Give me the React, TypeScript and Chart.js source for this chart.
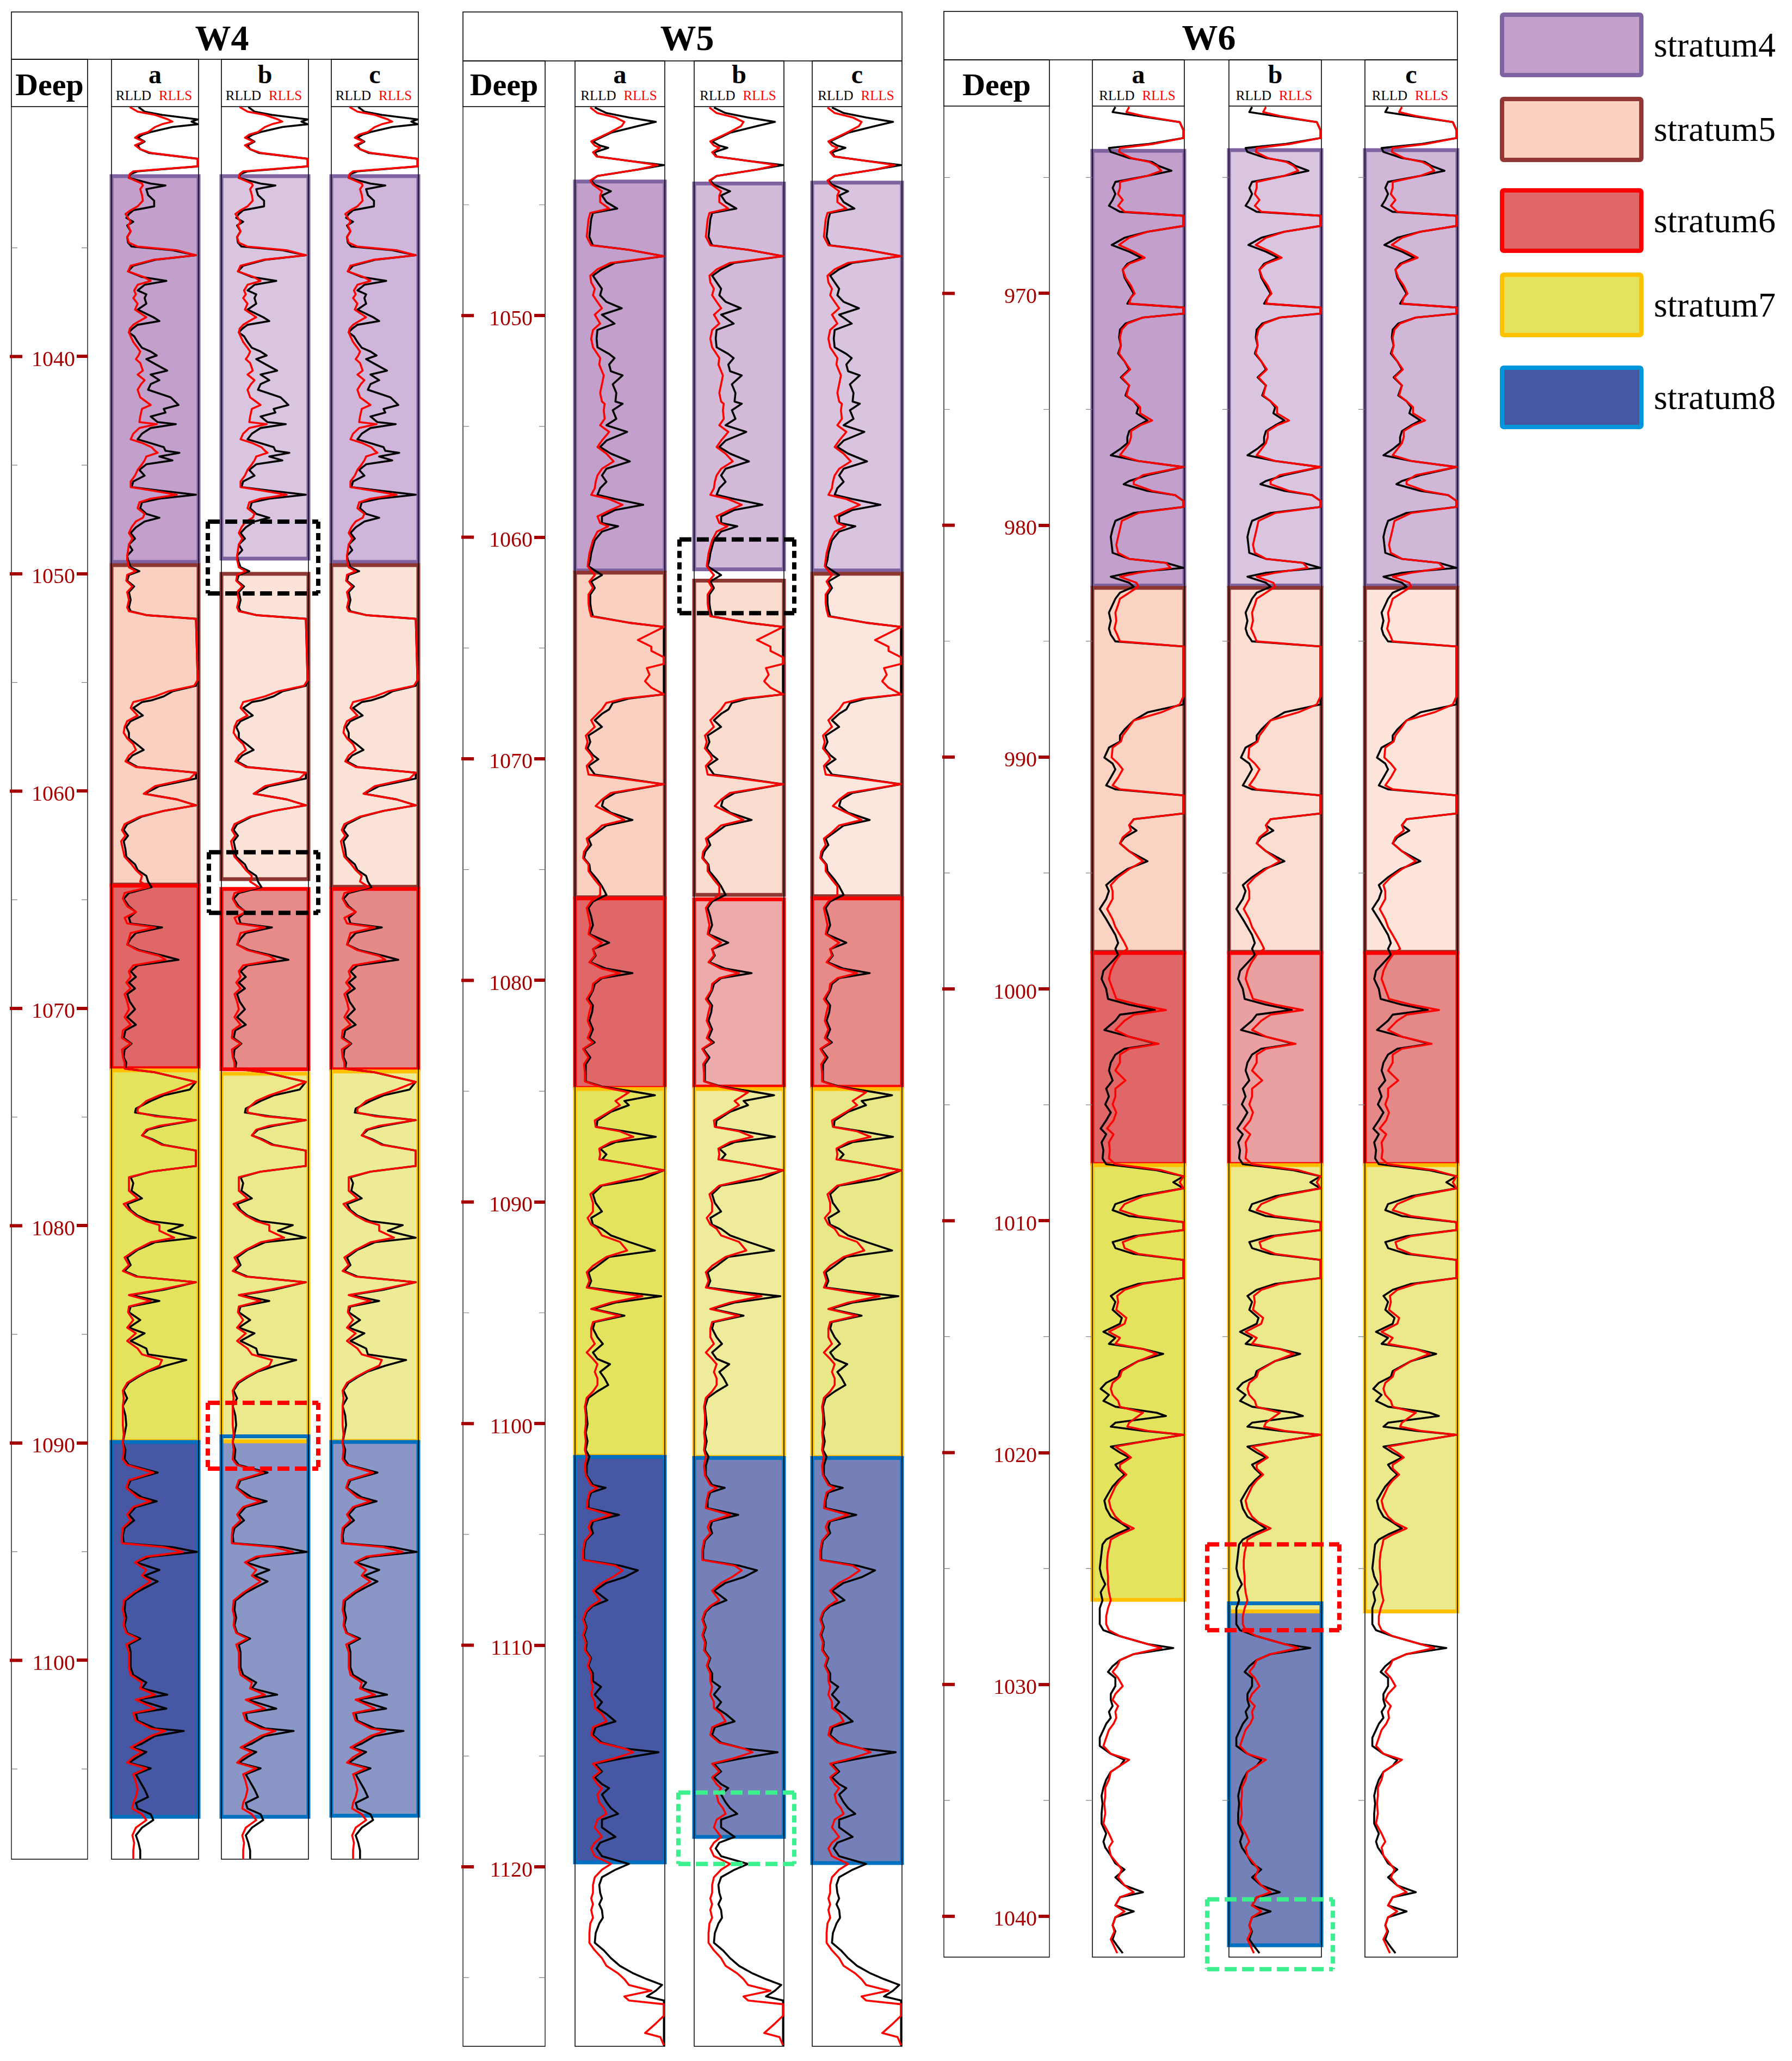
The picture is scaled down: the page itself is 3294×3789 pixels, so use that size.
import React, { useEffect, useRef } from "react";
import { Chart, registerables } from "chart.js";
Chart.register(...registerables);

const SERIF = "'Liberation Serif', 'Times New Roman', serif";
const TICK_RED = "#A50000";

// ---------------- DATA ----------------
const LEGEND_NAMES = ["stratum4", "stratum5", "stratum6", "stratum7", "stratum8"];
const LOG_NAMES = ["RLLD", "RLLS"];
const TRACK_NAMES = ["a", "b", "c"];
const WELL_NAMES = ["W4", "W5", "W6"];

const W4_RANGE = [1028.5, 1109.15];
const W5_RANGE = [1040.57, 1128.1];
const W6_RANGE = [961.92, 1041.76];

const W4_TICKS = [1040, 1050, 1060, 1070, 1080, 1090, 1100];
const W4_MINOR = [1035, 1045, 1055, 1065, 1075, 1085, 1095, 1105];
const W5_TICKS = [1050, 1060, 1070, 1080, 1090, 1100, 1110, 1120];
const W5_MINOR = [1045, 1055, 1065, 1075, 1085, 1095, 1105, 1115, 1125];
const W6_TICKS = [970, 980, 990, 1000, 1010, 1020, 1030, 1040];
const W6_MINOR = [965, 975, 985, 995, 1005, 1015, 1025, 1035];

const W4_DEPTH = [
  1028.52,1028.73,1028.88,1029.09,1029.19,1029.31,1029.44,1029.67,1029.79,1029.93,
  1030.11,1030.28,1030.46,1030.63,1030.90,1031.25,1031.48,1031.60,1031.78,1032.04,
  1032.13,1032.30,1032.57,1032.83,1033.09,1033.27,1033.44,1033.62,1033.80,1033.97,
  1034.24,1034.50,1034.76,1034.94,1035.11,1035.34,1035.55,1035.82,1036.08,1036.34,
  1036.52,1036.70,1036.96,1037.14,1037.31,1037.57,1037.84,1038.19,1038.37,1038.54,
  1038.72,1038.89,1039.07,1039.33,1039.60,1039.77,1039.95,1040.12,1040.30,1040.65,
  1040.83,1041.09,1041.27,1041.53,1041.88,1042.23,1042.41,1042.58,1042.76,1043.02,
  1043.11,1043.29,1043.55,1043.81,1043.99,1044.17,1044.34,1044.43,1044.60,1044.78,
  1044.96,1045.22,1045.48,1045.75,1046.01,1046.19,1046.36,1046.54,1046.71,1046.98,
  1047.24,1047.42,1047.59,1047.86,1048.12,1048.38,1048.65,1048.91,1049.17,1049.35,
  1049.70,1049.88,1050.05,1050.32,1050.58,1050.84,1051.20,1051.55,1051.72,1051.90,
  1052.07,1054.89,1055.15,1055.41,1055.64,1055.82,1055.90,1056.17,1056.52,1056.78,
  1057.05,1057.31,1057.57,1057.84,1058.10,1058.36,1058.63,1058.89,1059.15,1059.42,
  1059.77,1060.12,1060.38,1060.65,1060.91,1061.17,1061.52,1061.79,1062.05,1062.31,
  1062.67,1063.02,1063.37,1063.63,1063.90,1064.16,1064.42,1064.69,1064.95,1065.30,
  1065.56,1065.83,1066.09,1066.27,1066.53,1066.79,1067.06,1067.32,1067.58,1067.76,
  1068.02,1068.29,1068.55,1068.81,1069.08,1069.34,1069.69,1070.04,1070.40,1070.75,
  1071.01,1071.36,1071.62,1071.89,1072.24,1072.50,1072.77,1072.94,1073.38,1073.73,
  1074.00,1074.26,1074.61,1074.79,1074.96,1075.14,1075.40,1075.58,1075.84,1076.02,
  1076.28,1076.54,1077.25,1077.51,1077.77,1078.04,1078.39,1078.74,1079.00,1079.27,
  1079.53,1079.79,1079.97,1080.23,1080.55,1080.76,1081.11,1081.46,1081.81,1082.08,
  1082.34,1082.60,1082.95,1083.19,1083.46,1083.72,1083.98,1084.34,1084.69,1084.95,
  1085.30,1085.65,1085.92,1086.18,1086.44,1086.71,1086.97,1087.23,1087.58,1087.94,
  1088.29,1088.73,1089.17,1089.60,1089.96,1090.31,1090.75,1091.01,1091.36,1091.71,
  1092.06,1092.50,1092.68,1092.94,1093.29,1093.56,1093.91,1094.26,1094.61,1094.79,
  1095.01,1095.23,1095.49,1095.84,1096.10,1096.37,1096.63,1096.89,1097.25,1097.68,
  1098.04,1098.39,1098.74,1099.00,1099.27,1099.62,1099.97,1100.32,1100.67,1101.02,
  1101.29,1101.58,1101.81,1102.22,1102.43,1102.78,1103.13,1103.25,1103.48,1103.83,
  1104.01,1104.22,1104.45,1104.71,1104.97,1105.24,1105.59,1105.94,1106.29,1106.56,
  1106.82,1107.08,1107.35,1107.70,1108.05,1108.40,1108.75,1109.10,
];
const W4_RLLD = [
  .31,.38,.58,.99,.92,.99,.70,.45,.36,.30,
  .38,.30,.33,.43,.99,.99,.30,.22,.20,.45,
  .62,.40,.42,.49,.49,.25,.20,.17,.25,.18,
  .22,.18,.19,.23,.70,.97,.50,.25,.19,.35,
  .63,.38,.30,.40,.38,.40,.30,.48,.55,.30,
  .24,.20,.26,.30,.35,.45,.52,.40,.48,.64,
  .45,.55,.45,.42,.68,.77,.60,.62,.45,.53,
  .74,.45,.35,.30,.45,.60,.62,.78,.55,.70,
  .40,.32,.38,.25,.23,.60,.97,.55,.35,.33,
  .40,.55,.38,.28,.22,.27,.20,.24,.18,.19,
  .22,.32,.20,.18,.26,.20,.22,.20,.22,.40,
  .97,.99,.97,.70,.60,.46,.35,.25,.36,.22,
  .17,.20,.20,.29,.37,.24,.18,.30,.97,.97,
  .55,.38,.75,.97,.60,.35,.18,.14,.19,.14,
  .16,.17,.27,.30,.40,.42,.46,.20,.14,.20,
  .28,.20,.22,.58,.28,.22,.18,.32,.60,.77,
  .30,.22,.28,.20,.27,.18,.21,.27,.18,.28,
  .16,.14,.23,.15,.14,.17,.16,.50,.97,.90,
  .60,.45,.28,.27,.55,.97,.60,.42,.35,.47,
  .60,.97,.97,.45,.22,.25,.23,.35,.18,.22,
  .30,.45,.82,.65,.97,.50,.30,.18,.22,.15,
  .30,.97,.60,.22,.55,.22,.20,.33,.20,.38,
  .22,.40,.42,.86,.62,.42,.30,.20,.14,.18,
  .13,.16,.17,.15,.13,.16,.15,.20,.53,.22,
  .18,.35,.52,.28,.20,.26,.15,.13,.14,.70,
  .98,.45,.28,.55,.38,.53,.40,.28,.16,.15,
  .17,.15,.18,.33,.20,.22,.22,.22,.25,.40,
  .35,.64,.30,.63,.28,.30,.50,.83,.50,.35,
  .24,.40,.30,.20,.45,.28,.33,.38,.42,.28,
  .30,.45,.48,.35,.28,.31,.33,.33,
];
const W4_RLLS = [
  .21,.30,.50,.65,.70,.58,.50,.42,.32,.27,
  .37,.27,.33,.45,.99,.99,.25,.21,.20,.35,
  .36,.33,.35,.36,.30,.22,.16,.19,.22,.19,
  .22,.18,.20,.30,.75,.97,.48,.22,.19,.37,
  .45,.30,.26,.28,.25,.30,.27,.40,.32,.25,
  .21,.20,.22,.25,.30,.33,.31,.28,.33,.36,
  .30,.38,.34,.30,.33,.45,.35,.34,.33,.32,
  .52,.32,.25,.22,.36,.46,.50,.53,.40,.38,
  .35,.30,.27,.22,.22,.50,.75,.45,.32,.30,
  .38,.36,.28,.23,.20,.24,.20,.19,.18,.18,
  .20,.28,.18,.17,.24,.18,.20,.18,.20,.40,
  .97,.99,.95,.65,.50,.33,.25,.22,.30,.18,
  .15,.14,.18,.25,.28,.20,.16,.28,.97,.90,
  .50,.37,.75,.97,.60,.33,.15,.12,.16,.11,
  .13,.15,.23,.28,.35,.33,.43,.15,.13,.18,
  .28,.15,.18,.50,.22,.20,.18,.30,.55,.62,
  .25,.20,.22,.17,.22,.15,.18,.20,.15,.22,
  .13,.12,.22,.12,.13,.15,.15,.50,.97,.75,
  .55,.40,.30,.30,.50,.97,.55,.40,.35,.45,
  .58,.97,.97,.45,.20,.20,.20,.30,.14,.20,
  .28,.40,.55,.55,.72,.45,.28,.15,.20,.13,
  .28,.97,.55,.20,.45,.20,.19,.25,.18,.28,
  .18,.30,.35,.58,.55,.40,.28,.18,.13,.14,
  .13,.13,.13,.14,.13,.14,.13,.18,.48,.20,
  .17,.30,.45,.25,.18,.22,.13,.12,.12,.60,
  .82,.40,.27,.40,.35,.45,.35,.25,.14,.13,
  .15,.14,.17,.30,.17,.20,.20,.20,.22,.35,
  .33,.50,.28,.50,.25,.28,.45,.62,.45,.30,
  .22,.35,.25,.18,.40,.25,.28,.30,.28,.25,
  .24,.35,.40,.28,.24,.26,.25,.25,
];

const W5_DEPTH = [
  1040.61,1040.86,1041.06,1041.26,1041.45,1041.75,1042.14,1042.33,1042.43,1042.63,
  1042.82,1043.02,1043.21,1043.41,1043.70,1043.90,1044.09,1044.39,1044.58,1044.88,
  1045.17,1045.37,1045.66,1046.05,1046.44,1046.83,1047.03,1047.32,1047.62,1047.91,
  1048.20,1048.50,1048.79,1049.08,1049.38,1049.67,1049.96,1050.36,1050.65,1051.04,
  1051.43,1051.73,1051.92,1052.21,1052.51,1052.70,1053.10,1053.49,1053.88,1053.98,
  1054.27,1054.66,1054.95,1055.25,1055.64,1055.93,1056.23,1056.58,1056.91,1057.21,
  1057.50,1057.79,1058.09,1058.28,1058.54,1058.77,1059.06,1059.36,1059.51,1059.75,
  1060.14,1060.43,1060.73,1061.02,1061.31,1061.71,1062.00,1062.29,1062.59,1062.98,
  1063.27,1063.57,1063.86,1064.05,1064.64,1064.94,1065.13,1065.42,1065.72,1065.91,
  1066.21,1066.50,1066.79,1067.09,1067.28,1067.48,1067.77,1067.97,1068.26,1068.56,
  1068.95,1069.24,1069.53,1069.83,1070.02,1070.32,1070.71,1070.86,1071.15,1071.54,
  1071.84,1072.13,1072.43,1072.76,1073.01,1073.31,1073.60,1073.89,1074.19,1074.48,
  1074.77,1075.07,1075.46,1075.75,1076.14,1076.44,1076.73,1077.12,1077.51,1077.91,
  1078.30,1078.59,1078.88,1079.18,1079.47,1079.67,1079.90,1080.16,1080.45,1080.84,
  1081.13,1081.43,1081.82,1082.21,1082.60,1082.80,1083.09,1083.48,1083.78,1084.17,
  1084.56,1084.79,1085.05,1085.18,1085.44,1085.63,1085.93,1086.32,1086.61,1086.81,
  1087.06,1087.30,1087.59,1087.85,1088.08,1088.28,1088.57,1088.96,1089.26,1089.65,
  1090.04,1090.43,1090.72,1091.02,1091.21,1091.51,1091.80,1092.19,1092.48,1092.88,
  1093.17,1093.56,1093.86,1094.05,1094.25,1094.54,1094.83,1095.13,1095.42,1095.71,
  1096.10,1096.40,1096.79,1097.08,1097.32,1097.67,1097.96,1098.26,1098.55,1098.84,
  1099.24,1099.63,1100.02,1100.41,1100.80,1101.19,1101.49,1101.90,1102.33,1102.77,
  1102.90,1103.11,1103.46,1103.81,1104.12,1104.41,1104.68,1104.94,1105.28,1105.72,
  1106.15,1106.41,1106.62,1106.93,1107.19,1107.54,1107.97,1108.23,1108.49,1108.84,
  1109.19,1109.54,1109.88,1110.23,1110.58,1110.93,1111.27,1111.62,1111.88,1112.23,
  1112.57,1112.83,1113.10,1113.44,1113.70,1114.05,1114.40,1114.66,1114.83,1115.09,
  1115.35,1115.70,1115.96,1116.27,1116.45,1116.74,1117.09,1117.35,1117.61,1117.87,
  1118.22,1118.65,1118.91,1119.17,1119.52,1119.87,1120.13,1120.47,1120.82,1121.17,
  1121.43,1121.69,1121.95,1122.30,1122.56,1122.99,1123.43,1123.77,1124.12,1124.47,
  1124.81,1125.07,1125.33,1125.59,1125.85,1126.03,1126.20,1126.72,1127.07,1127.50,
  1127.68,1128.05,
];
const W5_RLLD = [
  .22,.35,.60,.90,.70,.40,.20,.28,.37,.22,
  .25,.60,.99,.70,.25,.18,.22,.40,.30,.35,
  .47,.20,.18,.17,.16,.20,.60,.99,.45,.30,
  .20,.25,.30,.28,.35,.52,.30,.44,.25,.24,
  .25,.38,.44,.38,.40,.53,.42,.46,.45,.53,
  .42,.46,.35,.58,.35,.28,.40,.61,.35,.30,
  .35,.28,.25,.45,.76,.45,.30,.30,.48,.30,
  .22,.20,.18,.17,.15,.30,.18,.22,.17,.17,
  .18,.20,.60,.99,.99,.99,.99,.99,.99,.99,
  .99,.99,.99,.99,.60,.42,.38,.30,.22,.30,
  .15,.17,.14,.20,.26,.15,.22,.50,.99,.45,
  .32,.30,.40,.64,.35,.25,.15,.18,.12,.10,
  .16,.17,.25,.30,.35,.20,.15,.18,.20,.16,
  .38,.20,.23,.17,.35,.64,.30,.22,.20,.15,
  .20,.19,.16,.20,.16,.22,.10,.17,.12,.12,
  .12,.30,.70,.89,.55,.60,.40,.25,.24,.55,
  .90,.45,.28,.35,.30,.60,.99,.75,.30,.20,
  .23,.30,.18,.20,.30,.40,.60,.89,.38,.25,
  .15,.18,.15,.50,.96,.45,.20,.55,.22,.20,
  .25,.31,.20,.25,.39,.28,.33,.37,.25,.15,
  .12,.13,.14,.12,.14,.12,.16,.13,.13,.20,
  .34,.18,.15,.15,.49,.20,.18,.20,.12,.10,
  .10,.50,.70,.55,.35,.22,.36,.20,.13,.10,
  .13,.10,.13,.12,.18,.15,.20,.20,.29,.22,
  .30,.25,.35,.45,.23,.20,.30,.55,.93,.55,
  .22,.30,.22,.30,.38,.30,.35,.40,.48,.30,
  .30,.45,.28,.24,.30,.60,.45,.30,.27,.28,
  .30,.27,.30,.31,.27,.23,.22,.32,.40,.50,
  .65,.80,.97,.90,.80,.99,.99,.99,.99,.99,
  .99,.99,
];
const W5_RLLS = [
  .17,.25,.45,.55,.52,.38,.18,.22,.28,.20,
  .24,.60,.92,.70,.25,.17,.20,.30,.28,.28,
  .38,.17,.15,.14,.13,.18,.60,.99,.40,.25,
  .17,.18,.22,.20,.25,.30,.22,.28,.20,.18,
  .20,.25,.28,.27,.30,.32,.30,.28,.30,.33,
  .32,.33,.28,.38,.30,.25,.35,.43,.30,.25,
  .23,.22,.18,.38,.53,.40,.25,.28,.37,.25,
  .20,.18,.16,.15,.14,.22,.16,.20,.15,.15,
  .16,.18,.60,.99,.70,.85,.85,.99,.99,.80,
  .83,.78,.85,.99,.55,.35,.30,.25,.18,.22,
  .12,.14,.12,.18,.20,.13,.15,.45,.99,.40,
  .30,.23,.38,.55,.30,.22,.13,.15,.10,.09,
  .15,.15,.22,.28,.28,.18,.13,.15,.17,.15,
  .30,.20,.22,.16,.30,.50,.28,.20,.19,.13,
  .18,.16,.14,.18,.14,.20,.09,.15,.10,.11,
  .11,.28,.60,.55,.45,.50,.38,.22,.23,.50,
  .65,.40,.27,.28,.27,.60,.99,.60,.28,.17,
  .20,.20,.14,.18,.25,.30,.50,.58,.35,.20,
  .13,.16,.13,.40,.75,.40,.18,.50,.20,.18,
  .18,.22,.13,.20,.25,.22,.25,.25,.20,.13,
  .11,.12,.12,.11,.12,.11,.13,.11,.12,.18,
  .25,.16,.14,.13,.40,.18,.15,.18,.11,.09,
  .09,.45,.53,.42,.30,.20,.28,.18,.12,.09,
  .12,.09,.12,.11,.17,.14,.18,.18,.20,.18,
  .22,.22,.30,.35,.20,.18,.28,.55,.65,.45,
  .20,.28,.20,.25,.30,.25,.27,.32,.35,.25,
  .22,.30,.22,.18,.22,.40,.30,.22,.20,.20,
  .18,.20,.18,.20,.17,.16,.16,.22,.30,.35,
  .48,.55,.60,.85,.55,.60,.99,.99,.90,.78,
  .95,.99,
];

const W6_DEPTH = [
  961.96,962.18,962.35,962.61,962.96,963.30,963.56,963.73,963.90,964.16,
  964.33,964.50,964.71,964.93,965.19,965.45,965.71,965.97,966.22,966.48,
  966.65,967.09,967.34,967.60,967.91,968.20,968.46,968.72,968.98,969.32,
  969.67,970.01,970.18,970.44,970.61,970.87,971.04,971.30,971.56,971.90,
  972.25,972.59,972.93,973.28,973.62,973.97,974.40,974.65,974.91,975.17,
  975.48,975.69,975.94,976.20,976.46,976.72,976.98,977.23,977.49,977.84,
  978.09,978.23,978.52,978.70,978.95,979.21,979.47,979.81,980.16,980.50,
  980.85,981.19,981.45,981.62,981.84,982.05,982.22,982.48,982.65,982.91,
  983.17,983.43,983.77,984.12,984.46,984.72,985.01,985.23,987.38,987.73,
  988.07,988.42,988.81,989.07,989.33,989.59,990.02,990.28,990.53,990.88,
  991.22,991.39,991.65,992.43,992.68,992.94,993.17,993.46,993.72,994.06,
  994.49,994.83,995.18,995.52,995.78,996.12,996.55,996.99,997.33,997.67,
  998.02,998.27,998.53,998.88,999.22,999.57,1000.00,1000.43,1000.68,1000.91,
  1001.11,1001.37,1001.77,1002.06,1002.37,1002.58,1002.83,1003.18,1003.52,1003.95,
  1004.30,1004.64,1004.98,1005.33,1005.67,1006.02,1006.27,1006.62,1006.96,1007.31,
  1007.56,1007.82,1008.08,1008.34,1008.60,1008.94,1009.28,1009.54,1009.80,1010.06,
  1010.40,1010.66,1010.92,1011.18,1011.43,1011.69,1012.47,1012.72,1012.98,1013.24,
  1013.50,1013.84,1014.19,1014.44,1014.79,1015.05,1015.31,1015.53,1015.74,1016.05,
  1016.48,1016.73,1016.99,1017.25,1017.51,1017.77,1018.02,1018.28,1018.42,1018.71,
  1018.88,1019.06,1019.23,1019.49,1019.74,1020.00,1020.21,1020.52,1020.69,1020.95,
  1021.20,1021.46,1021.72,1022.07,1022.41,1022.76,1023.01,1023.27,1023.53,1023.75,
  1023.96,1024.30,1024.65,1024.99,1025.34,1025.68,1026.02,1026.37,1026.71,1027.06,
  1027.40,1027.66,1027.92,1028.26,1028.43,1028.69,1028.95,1029.21,1029.46,1029.72,
  1030.07,1030.41,1030.67,1030.93,1031.18,1031.44,1031.70,1031.96,1032.30,1032.65,
  1032.99,1033.25,1033.51,1033.77,1034.11,1034.45,1034.80,1035.14,1035.57,1036.00,
  1036.43,1036.78,1037.03,1037.38,1037.72,1037.98,1038.32,1038.67,1038.96,1039.18,
  1039.53,1039.79,1040.04,1040.39,1040.65,1040.99,1041.33,1041.59,
];
const W6_RLLD = [
  .25,.22,.50,.95,.99,.99,.60,.18,.20,.40,
  .65,.72,.86,.60,.25,.22,.25,.22,.18,.30,
  .99,.99,.60,.35,.21,.40,.53,.38,.33,.35,
  .40,.45,.42,.38,.99,.99,.55,.36,.30,.29,
  .31,.28,.35,.40,.31,.40,.36,.45,.50,.48,
  .60,.50,.40,.38,.38,.30,.20,.50,.99,.60,
  .40,.34,.60,.90,.99,.99,.45,.25,.22,.20,
  .21,.22,.40,.80,.99,.40,.20,.40,.45,.30,
  .25,.22,.18,.20,.18,.20,.25,.99,.99,.99,
  .60,.45,.35,.30,.30,.18,.13,.22,.25,.20,
  .15,.25,.99,.99,.45,.40,.48,.35,.30,.40,
  .60,.38,.25,.15,.18,.15,.08,.15,.20,.25,
  .28,.25,.28,.20,.12,.10,.15,.17,.40,.68,
  .30,.25,.13,.40,.70,.35,.25,.20,.18,.22,
  .15,.18,.14,.20,.15,.09,.15,.10,.12,.11,
  .15,.70,.99,.88,.99,.50,.25,.22,.40,.99,
  .99,.45,.22,.25,.45,.99,.99,.50,.30,.20,
  .25,.22,.32,.30,.12,.25,.18,.55,.77,.50,
  .30,.28,.15,.09,.18,.12,.25,.70,.80,.25,
  .20,.55,.99,.60,.20,.30,.40,.25,.28,.35,
  .28,.22,.18,.13,.15,.20,.30,.40,.25,.15,
  .11,.10,.09,.08,.10,.14,.09,.11,.08,.08,
  .08,.12,.30,.60,.88,.45,.30,.22,.17,.25,
  .25,.20,.20,.22,.18,.20,.15,.12,.08,.08,
  .20,.35,.30,.20,.15,.12,.10,.11,.10,.10,
  .15,.12,.14,.20,.25,.35,.25,.35,.55,.30,
  .25,.45,.25,.22,.25,.22,.28,.33,
];
const W6_RLLS = [
  .40,.37,.55,.95,.99,.99,.65,.30,.29,.42,
  .62,.70,.75,.60,.30,.30,.28,.33,.28,.35,
  .99,.99,.60,.40,.29,.45,.57,.40,.33,.36,
  .42,.46,.42,.40,.99,.99,.55,.38,.32,.30,
  .31,.29,.35,.41,.32,.40,.37,.45,.52,.52,
  .65,.52,.42,.42,.40,.35,.30,.50,.99,.55,
  .45,.45,.65,.90,.99,.99,.50,.32,.30,.28,
  .26,.28,.40,.80,.85,.50,.30,.48,.50,.40,
  .30,.28,.25,.26,.24,.27,.30,.99,.99,.95,
  .75,.45,.38,.33,.31,.22,.21,.28,.33,.28,
  .22,.30,.99,.99,.45,.40,.42,.33,.30,.40,
  .55,.40,.28,.20,.22,.22,.16,.22,.25,.30,
  .35,.38,.30,.24,.20,.18,.22,.26,.50,.80,
  .45,.35,.25,.40,.72,.40,.30,.30,.25,.36,
  .25,.25,.22,.26,.23,.16,.23,.18,.19,.18,
  .25,.75,.99,.95,.99,.55,.35,.30,.50,.99,
  .99,.50,.33,.35,.50,.99,.99,.55,.35,.27,
  .28,.26,.37,.35,.18,.30,.25,.55,.70,.50,
  .32,.30,.22,.20,.22,.28,.30,.55,.50,.40,
  .38,.60,.99,.60,.25,.35,.42,.30,.30,.37,
  .30,.25,.22,.18,.20,.25,.32,.45,.30,.20,
  .19,.17,.16,.16,.17,.17,.18,.20,.17,.15,
  .15,.18,.30,.60,.75,.45,.30,.27,.22,.28,
  .33,.25,.22,.28,.25,.26,.23,.18,.15,.12,
  .20,.40,.30,.20,.18,.14,.14,.13,.14,.12,
  .18,.22,.18,.20,.27,.32,.28,.35,.45,.30,
  .25,.35,.25,.22,.24,.20,.24,.27,
];

// strata per track: [stratum number, top depth, base depth]
const W4_STRATA_A = [[4, 1031.7, 1049.45], [5, 1049.6, 1064.3], [6, 1064.35, 1072.75], [7, 1072.85, 1089.9], [8, 1089.95, 1107.2]];
const W4_STRATA_B = [[4, 1031.7, 1049.3], [5, 1050.0, 1064.05], [6, 1064.5, 1072.8], [7, 1073.0, 1089.92], [8, 1089.69, 1107.2]];
const W4_STRATA_C = [[4, 1031.7, 1049.45], [5, 1049.6, 1064.4], [6, 1064.5, 1072.8], [7, 1072.9, 1089.9], [8, 1089.95, 1107.15]];
const W5_STRATA_A = [[4, 1043.95, 1061.5], [5, 1061.6, 1076.25], [6, 1076.3, 1084.85], [7, 1084.9, 1101.45], [8, 1101.5, 1119.8]];
const W5_STRATA_B = [[4, 1044.04, 1061.45], [5, 1061.96, 1076.14], [6, 1076.34, 1084.79], [7, 1084.9, 1101.5], [8, 1101.55, 1118.65]];
const W5_STRATA_C = [[4, 1044.0, 1061.5], [5, 1061.65, 1076.2], [6, 1076.3, 1084.8], [7, 1084.9, 1101.5], [8, 1101.55, 1119.83]];
const W6_STRATA_A = [[4, 963.85, 982.6], [5, 982.7, 998.4], [6, 998.45, 1007.55], [7, 1007.6, 1026.35]];
const W6_STRATA_B = [[4, 963.82, 982.6], [5, 982.7, 998.4], [6, 998.45, 1007.55], [7, 1007.6, 1026.85], [8, 1026.5, 1041.25]];
const W6_STRATA_C = [[4, 963.82, 982.6], [5, 982.7, 998.4], [6, 998.45, 1007.55], [7, 1007.6, 1026.85]];

// highlighted intervals (dashed boxes) in track b: [top depth, base depth]
const W4_MARKS = [[1047.6, 1050.9], [1062.81, 1065.6], [1088.15, 1091.18]];
const W5_MARKS = [[1060.1, 1063.43], [1116.65, 1119.87]];
const W6_MARKS = [[1023.96, 1027.66], [1039.27, 1042.28]];

// ---------------- STYLE / LAYOUT ----------------
const BORDERS = ["#7F63A1", "#8E3631", "#FF0000", "#FFC000", "#0070C0"];
const LEGEND_BORDERS = ["#8064A2", "#943634", "#FF0000", "#FFC000", "#0096DB"];
const LEGEND_FILLS = ["#C3A0CB", "#FAD1C0", "#DF6767", "#E3E35E", "#4657A3"];
const LEGEND_TOPS = [23, 178, 346, 501, 672];
const LEGEND_HEIGHTS = [119, 120, 119, 119, 117];

const BLACK = "#000000";
const RED = "#FF0000";
const GREEN = "#3CF08E";

const WELLS: any[] = [
  {
    name: WELL_NAMES[0], range: W4_RANGE, ticks: W4_TICKS, minor: W4_MINOR, depth: W4_DEPTH, rlld: W4_RLLD, rlls: W4_RLLS,
    titleTop: 22, headerTop: 109, titleCx: 408, deep: [21, 161], bodyTop: 196, bodyBottom: 3418, trackMinor: false,
    tracks: [
      { x: [205, 365], strata: W4_STRATA_A, fills: ["#C3A0CB", "#FAD1C0", "#DF6767", "#E3E35E", "#4657A3"], marks: [] },
      { x: [407, 567], strata: W4_STRATA_B, fills: ["#D9C5E0", "#FCE3D9", "#E68A8A", "#EBE98B", "#8A97C6"],
        marks: [{ iv: W4_MARKS[0], x: [-0.156, 1.1125], color: BLACK }, { iv: W4_MARKS[1], x: [-0.144, 1.1125], color: BLACK }, { iv: W4_MARKS[2], x: [-0.156, 1.1125], color: RED }] },
      { x: [609, 769], strata: W4_STRATA_C, fills: ["#CFB5D9", "#FCE3D8", "#E58989", "#EDEB95", "#8A96C6"], marks: [] },
    ],
  },
  {
    name: WELL_NAMES[1], range: W5_RANGE, ticks: W5_TICKS, minor: W5_MINOR, depth: W5_DEPTH, rlld: W5_RLLD, rlls: W5_RLLS,
    titleTop: 22, headerTop: 112, titleCx: 1263, deep: [851, 1002], bodyTop: 196, bodyBottom: 3762, trackMinor: false,
    tracks: [
      { x: [1057, 1222], strata: W5_STRATA_A, fills: ["#C3A0CB", "#FAD1C0", "#DF6767", "#E3E35E", "#4657A3"], marks: [] },
      { x: [1276, 1441], strata: W5_STRATA_B, fills: ["#D3BAD9", "#FBDDCF", "#ECAAAA", "#EEEC9A", "#7580B8"],
        marks: [{ iv: W5_MARKS[0], x: [-0.164, 1.115], color: BLACK }, { iv: W5_MARKS[1], x: [-0.176, 1.115], color: GREEN }] },
      { x: [1493, 1658], strata: W5_STRATA_C, fills: ["#D8C4DF", "#FCE6DD", "#E68A8A", "#E9E888", "#7580B8"], marks: [] },
    ],
  },
  {
    name: WELL_NAMES[2], range: W6_RANGE, ticks: W6_TICKS, minor: W6_MINOR, depth: W6_DEPTH, rlld: W6_RLLD, rlls: W6_RLLS,
    titleTop: 21, headerTop: 110, titleCx: 2222, deep: [1735, 1929], bodyTop: 195, bodyBottom: 3598, trackMinor: true,
    tracks: [
      { x: [2008, 2177], strata: W6_STRATA_A, fills: ["#C3A0CB", "#FAD3C3", "#DF6767", "#E3E35E"], marks: [] },
      { x: [2259, 2429], strata: W6_STRATA_B, fills: ["#D9C5E0", "#FCDDD1", "#EAA0A0", "#EBE98B", "#7481B9"],
        marks: [{ iv: W6_MARKS[0], x: [-0.235, 1.194], color: RED }, { iv: W6_MARKS[1], x: [-0.235, 1.124], color: GREEN }] },
      { x: [2509, 2679], strata: W6_STRATA_C, fills: ["#D0B7D8", "#FDE5DB", "#E58888", "#EBE98B"], marks: [] },
    ],
  },
];

const PADX = 50;
const PADY = 40;

// ---------------- CHART CONFIGS ----------------
function trackConfig(w: any, t: any) {
  const n = Math.min(w.depth.length, w.rlld.length, w.rlls.length);
  const pts = (vals: number[]) => {
    const out: any[] = [];
    for (let i = 0; i < n; i++) out.push({ x: vals[i], y: w.depth[i] });
    return out;
  };
  const line = (label: string, vals: number[], color: string) => ({
    label, data: pts(vals), showLine: true, borderColor: color, backgroundColor: color,
    borderWidth: 3.6, pointRadius: 0, pointHoverRadius: 0, borderJoinStyle: "round", tension: 0, fill: false,
  });
  const plugin = {
    id: "strataTrack",
    beforeDatasetsDraw(chart: any) {
      const { ctx, chartArea: ca } = chart;
      const y = chart.scales.y;
      ctx.save();
      // fills: deeper strata first so shallower fill wins where intervals overlap
      for (let k = t.strata.length - 1; k >= 0; k--) {
        const s = t.strata[k];
        const y0 = y.getPixelForValue(s[1]);
        const y1 = y.getPixelForValue(s[2]);
        ctx.fillStyle = t.fills[s[0] - 4];
        ctx.fillRect(ca.left, y0, ca.right - ca.left, y1 - y0);
      }
      t.strata.forEach((s: number[]) => {
        const y0 = y.getPixelForValue(s[1]);
        const y1 = y.getPixelForValue(s[2]);
        ctx.strokeStyle = BORDERS[s[0] - 4];
        ctx.lineWidth = 7;
        ctx.strokeRect(ca.left, y0, ca.right - ca.left, y1 - y0);
      });
      ctx.strokeStyle = "#000";
      ctx.lineWidth = 1.5;
      ctx.beginPath();
      ctx.moveTo(ca.left, ca.top);
      ctx.lineTo(ca.left, ca.bottom);
      ctx.lineTo(ca.right, ca.bottom);
      ctx.lineTo(ca.right, ca.top);
      ctx.stroke();
      if (w.trackMinor) {
        ctx.strokeStyle = "#808080";
        ctx.lineWidth = 1.2;
        w.minor.forEach((v: number) => {
          const py = y.getPixelForValue(v);
          ctx.beginPath();
          ctx.moveTo(ca.left - 12, py);
          ctx.lineTo(ca.left, py);
          ctx.stroke();
        });
      }
      ctx.restore();
    },
    afterDatasetsDraw(chart: any) {
      const { ctx } = chart;
      const x = chart.scales.x;
      const y = chart.scales.y;
      ctx.save();
      t.marks.forEach((m: any) => {
        const X0 = x.getPixelForValue(m.x[0]);
        const X1 = x.getPixelForValue(m.x[1]);
        const Y0 = y.getPixelForValue(m.iv[0]);
        const Y1 = y.getPixelForValue(m.iv[1]);
        ctx.strokeStyle = m.color;
        ctx.lineWidth = 8;
        ctx.lineCap = "butt";
        ctx.setLineDash([22, 10]);
        ctx.beginPath();
        ctx.moveTo(X0, Y0); ctx.lineTo(X1, Y0);
        ctx.moveTo(X0, Y1); ctx.lineTo(X1, Y1);
        ctx.stroke();
        ctx.setLineDash([13, 8]);
        ctx.beginPath();
        ctx.moveTo(X0, Y0); ctx.lineTo(X0, Y1);
        ctx.moveTo(X1, Y0); ctx.lineTo(X1, Y1);
        ctx.stroke();
      });
      ctx.restore();
    },
  };
  return {
    type: "scatter",
    data: { datasets: [line(LOG_NAMES[1], w.rlls, "#FF0000"), line(LOG_NAMES[0], w.rlld, "#000000")] },
    options: {
      animation: false, responsive: false, maintainAspectRatio: false, devicePixelRatio: 1, events: [],
      layout: { padding: { left: PADX, right: PADX, top: PADY, bottom: PADY } },
      plugins: { legend: { display: false }, tooltip: { enabled: false } },
      scales: {
        x: { type: "linear", display: false, min: 0, max: 1 },
        y: { type: "linear", display: false, reverse: true, min: w.range[0], max: w.range[1] },
      },
    },
    plugins: [plugin],
  };
}

function deepConfig(w: any) {
  const deepW = w.deep[1] - w.deep[0];
  const plugin = {
    id: "deepTicks",
    afterDraw(chart: any) {
      const { ctx } = chart;
      const y = chart.scales.y;
      const xl = 10;
      const xr = 10 + deepW;
      ctx.save();
      ctx.strokeStyle = TICK_RED;
      ctx.lineWidth = 6;
      w.ticks.forEach((v: number) => {
        const py = y.getPixelForValue(v);
        ctx.beginPath();
        ctx.moveTo(xl - 3, py);
        ctx.lineTo(xl + 20, py);
        ctx.stroke();
      });
      ctx.strokeStyle = "#808080";
      ctx.lineWidth = 1.2;
      w.minor.forEach((v: number) => {
        const py = y.getPixelForValue(v);
        ctx.beginPath();
        ctx.moveTo(xl, py); ctx.lineTo(xl + 11, py);
        ctx.moveTo(xr - 11, py); ctx.lineTo(xr, py);
        ctx.stroke();
      });
      ctx.restore();
    },
  };
  return {
    type: "scatter",
    data: { datasets: [] },
    options: {
      animation: false, responsive: false, maintainAspectRatio: false, devicePixelRatio: 1, events: [],
      layout: { padding: { top: PADY, bottom: PADY, left: 0, right: 0 } },
      plugins: { legend: { display: false }, tooltip: { enabled: false } },
      scales: {
        x: { type: "linear", display: false, min: 0, max: 1 },
        y: {
          type: "linear", position: "left", reverse: true, min: w.range[0], max: w.range[1],
          afterFit: (s: any) => { s.width = deepW + 10; },
          afterBuildTicks: (s: any) => { s.ticks = w.ticks.map((v: number) => ({ value: v })); },
          grid: { display: true, drawOnChartArea: false, drawTicks: true, tickLength: 20, tickWidth: 6, tickColor: TICK_RED, color: TICK_RED, lineWidth: 6 },
          border: { display: false },
          ticks: {
            color: TICK_RED, font: { family: SERIF, size: 40 }, padding: 3, labelOffset: 7,
            autoSkip: false, maxRotation: 0, callback: (v: any) => String(v),
          },
        },
      },
    },
    plugins: [plugin],
  };
}

// ---------------- COMPONENTS ----------------
function ChartBox(props: { left: number; top: number; width: number; height: number; build: () => any }) {
  const ref = useRef<HTMLCanvasElement>(null);
  useEffect(() => {
    const chart = new Chart(ref.current as HTMLCanvasElement, props.build());
    return () => chart.destroy();
  }, []);
  return (
    <canvas
      ref={ref}
      width={props.width}
      height={props.height}
      style={{ position: "absolute", left: props.left, top: props.top, width: props.width, height: props.height }}
    />
  );
}

function Frame() {
  const sw = 1.6;
  return (
    <svg width={3294} height={3789} style={{ position: "absolute", left: 0, top: 0 }}>
      {WELLS.map((w: any) => {
        const right = w.tracks[2].x[1];
        const [dl, dr] = w.deep;
        return (
          <g key={w.name}>
            <rect x={dl} y={w.titleTop} width={right - dl} height={w.headerTop - w.titleTop} fill="none" stroke="#000" strokeWidth={sw} />
            <text x={w.titleCx} y={w.titleTop + 70} textAnchor="middle" fontFamily={SERIF} fontWeight="bold" fontSize={66}>{w.name}</text>
            <rect x={dl} y={w.headerTop} width={dr - dl} height={w.bodyTop - w.headerTop} fill="none" stroke="#000" strokeWidth={sw} />
            <text x={(dl + dr) / 2} y={175} textAnchor="middle" fontFamily={SERIF} fontWeight="bold" fontSize={58}>Deep</text>
            <path d={`M${dl},${w.bodyTop} L${dl},${w.bodyBottom} L${dr},${w.bodyBottom} L${dr},${w.bodyTop}`} fill="none" stroke="#000" strokeWidth={1.3} />
            {w.tracks.map((t: any, i: number) => {
              const cx = (t.x[0] + t.x[1]) / 2;
              return (
                <g key={i}>
                  <rect x={t.x[0]} y={w.headerTop} width={t.x[1] - t.x[0]} height={w.bodyTop - w.headerTop} fill="none" stroke="#000" strokeWidth={sw} />
                  <text x={cx} y={153} textAnchor="middle" fontFamily={SERIF} fontWeight="bold" fontSize={48}>{TRACK_NAMES[i]}</text>
                  <text x={cx - 7} y={184} textAnchor="end" fontFamily={SERIF} fontSize={25} fill="#000">{LOG_NAMES[0]}</text>
                  <text x={cx + 7} y={184} textAnchor="start" fontFamily={SERIF} fontSize={25} fill="#FF0000">{LOG_NAMES[1]}</text>
                </g>
              );
            })}
          </g>
        );
      })}
      {LEGEND_NAMES.map((name, i) => (
        <g key={name}>
          <rect x={2761} y={LEGEND_TOPS[i] + 4} width={256} height={LEGEND_HEIGHTS[i] - 8} rx={3}
            fill={LEGEND_FILLS[i]} stroke={LEGEND_BORDERS[i]} strokeWidth={8} />
          <text x={3040} y={LEGEND_TOPS[i] + LEGEND_HEIGHTS[i] / 2 + 21} fontFamily={SERIF} fontSize={64} fill="#000">{name}</text>
        </g>
      ))}
    </svg>
  );
}

export default function App() {
  return (
    <div style={{ position: "absolute", left: 0, top: 0, width: 3294, height: 3789, background: "#fff", overflow: "hidden" }}>
      <Frame />
      {WELLS.map((w: any) => {
        const h = w.bodyBottom - w.bodyTop + 2 * PADY;
        return (
          <React.Fragment key={w.name}>
            <ChartBox
              left={w.deep[0] - 10}
              top={w.bodyTop - PADY}
              width={w.deep[1] - w.deep[0] + 20}
              height={h}
              build={() => deepConfig(w)}
            />
            {w.tracks.map((t: any, i: number) => (
              <ChartBox
                key={i}
                left={t.x[0] - PADX}
                top={w.bodyTop - PADY}
                width={t.x[1] - t.x[0] + 2 * PADX}
                height={h}
                build={() => trackConfig(w, t)}
              />
            ))}
          </React.Fragment>
        );
      })}
    </div>
  );
}
